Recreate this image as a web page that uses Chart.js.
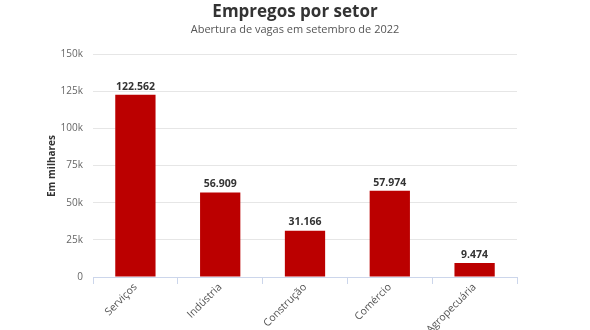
<!DOCTYPE html>
<html><head><meta charset="utf-8">
<script src="https://cdn.jsdelivr.net/npm/chart.js@4.4.0/dist/chart.umd.min.js"></script>
<style>html,body{margin:0;padding:0;background:#fff}#wrap{width:590px;height:330px;position:relative}</style>
</head><body><div id="wrap"><canvas id="c" width="590" height="330"></canvas></div>
<script>
const categories = ["Serviços","Indústria","Construção","Comércio","Agropecuária"];
const vagas = [122562, 56909, 31166, 57974, 9474];
const yTicks = [0, 25000, 50000, 75000, 100000, 125000, 150000];
const titleText = "Empregos por setor";
const subtitleText = "Abertura de vagas em setembro de 2022";
const yTitle = "Em milhares";

const FONT = "'Open Sans', 'Noto Sans', sans-serif";

const textPlugin = {
  id: 'texts',
  afterDraw(chart) {
    const ctx = chart.ctx;
    ctx.save();
    ctx.textAlign = 'center';
    ctx.textBaseline = 'middle';
    ctx.fillStyle = '#333333';
    ctx.font = "bold 17px " + FONT;
    ctx.fillText(titleText, 295, 12);
    ctx.fillStyle = '#555555';
    ctx.font = "11px " + FONT;
    ctx.fillText(subtitleText, 295, 30);
    // y title
    ctx.save();
    ctx.translate(52, 166);
    ctx.rotate(-Math.PI/2);
    ctx.fillStyle = '#333333';
    ctx.font = "bold 10px " + FONT;
    ctx.fillText(yTitle, 0, 0);
    ctx.restore();
    // data labels
    const meta = chart.getDatasetMeta(0);
    ctx.font = "bold 10.5px " + FONT;
    ctx.fillStyle = '#333333';
    ctx.textBaseline = 'bottom';
    meta.data.forEach((el, i) => {
      const v = vagas[i].toLocaleString('pt-BR');
      ctx.fillText(v, el.x, el.y - 3);
    });
    ctx.restore();
  }
};

new Chart(document.getElementById('c'), {
  type: 'bar',
  data: {
    labels: categories,
    datasets: [{
      data: vagas,
      backgroundColor: '#bb0000',
      borderWidth: 0,
      barPercentage: 0.95,
      categoryPercentage: 0.5
    }]
  },
  options: {
    responsive: false,
    animation: false,
    layout: { padding: { left: 0, right: 73, top: 54, bottom: 0 } },
    plugins: { legend: { display: false }, tooltip: { enabled: false } },
    scales: {
      y: {
        min: 0, max: 150000,
        afterFit(s) { s.width = 93; },
        afterBuildTicks(s) { s.ticks = yTicks.map(v => ({ value: v })); },
        ticks: {
          color: '#666666',
          font: { family: FONT, size: 10 },
          padding: 10,
          callback: v => v === 0 ? '0' : (v / 1000) + 'k'
        },
        grid: { color: '#e6e6e6', drawTicks: false, lineWidth: 1 },
        border: { display: false }
      },
      x: {
        afterFit(s) { s.height = 53; },
        ticks: {
          color: '#555555',
          font: { family: FONT, size: 10.5 },
          maxRotation: 45, minRotation: 45,
          padding: -3
        },
        grid: { drawOnChartArea: false, color: '#ccd6eb', tickLength: 7, offset: true },
        border: { color: '#ccd6eb', width: 1 }
      }
    }
  },
  plugins: [textPlugin]
});
</script>
</body></html>
